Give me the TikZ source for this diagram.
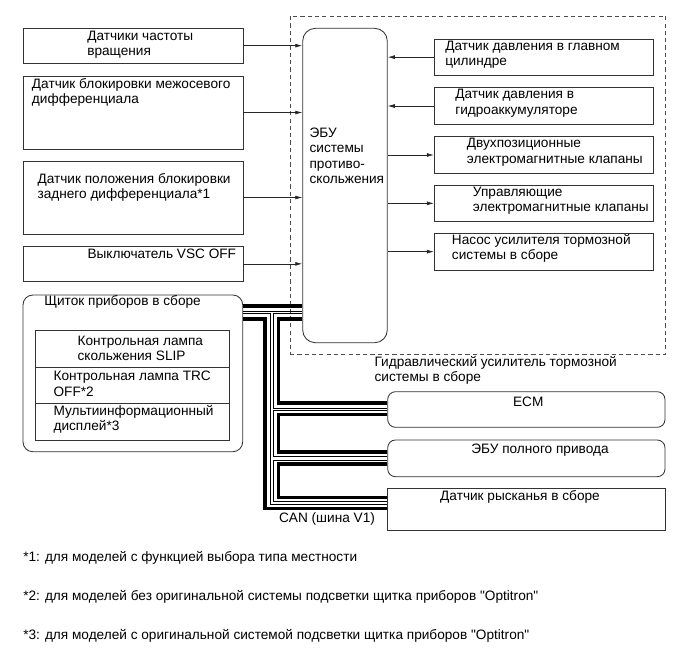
\documentclass[tikz,border=0pt]{standalone}
\usepackage{fontspec}
\setmainfont{Liberation Sans}
\usetikzlibrary{arrows.meta,fit,positioning}
\tikzset{font={\fontsize{9.7pt}{11pt}\selectfont}}

\begin{document}
\begin{tikzpicture}[x=0.025cm,y=-0.025cm,
box/.style={draw=black!80,line width=0.6pt,inner sep=0pt},
rbox/.style={box,rounded corners=5.5pt},
txt/.style={inner sep=0pt,align=left,anchor=west},
ctxt/.style={inner sep=0pt,align=center},
arr/.style={draw=black!85,line width=0.5pt,-{Latex[length=5pt,width=2.8pt]}},
canthick/.style={line width=2.2pt},
canthin/.style={line width=0.5pt}
]
\useasboundingbox (0,0) rectangle (691,660);

% hydraulic booster frame
\node[draw=black!70,dashed,dash pattern=on 3pt off 2.2pt,line width=0.5pt,inner sep=0pt,
  fit={(290,16) (665.7,354)}] (booster) {};
\node[txt] (boostertxt) at (374.3,370.3) {Гидравлический усилитель тормозной\\системы в сборе};

% ECU
\node[box,rounded corners=9pt,fit={(302.7,28.3) (387.3,342.7)}] (ecu) {};
\node[txt,align=left] (ecutxt) at (309.3,155.7) {ЭБУ\\системы\\противо-\\скольжения};

% inputs
\node[box,fit={(23,28) (243,63.3)}] (speed) {};
\node[txt] (speedtxt) at (87,44.7) {Датчики частоты\\вращения};
\node[box,fit={(23,76) (243,149)}] (cdl) {};
\node[txt] (cdltxt) at (31.7,92.2) {Датчик блокировки межосевого\\дифференциала};
\node[box,fit={(23,161) (243,234)}] (rdl) {};
\node[txt] (rdltxt) at (37.3,187.2) {Датчик положения блокировки\\заднего дифференциала*1};
\node[box,fit={(23,246) (243,281.7)}] (vsc) {};
\node[txt] (vsctxt) at (87.3,254) {Выключатель VSC OFF};

\foreach \n in {speed,cdl,rdl,vsc}
  \draw[arr] (\n.east) -- (\n.east -| ecu.west);

% booster parts
\node[box,fit={(434.3,39.3) (653.3,75)}] (mcp) {};
\node[txt] (mcptxt) at (445,54.7) {Датчик давления в главном\\цилиндре};
\node[box,fit={(434.3,87.7) (653.3,124.3)}] (acc) {};
\node[txt] (acctxt) at (455,103.3) {Датчик давления в\\гидроаккумуляторе};
\node[box,fit={(434.3,136.7) (653.3,173.3)}] (sw) {};
\node[txt] (swtxt) at (466.7,152) {Двухпозиционные\\электромагнитные клапаны};
\node[box,fit={(434.3,185) (653.3,221.7)}] (ctl) {};
\node[txt] (ctltxt) at (472.7,200.5) {Управляющие\\электромагнитные клапаны};
\node[box,fit={(434.3,233.3) (653.3,270)}] (pump) {};
\node[txt] (pumptxt) at (451.7,248.3) {Насос усилителя тормозной\\системы в сборе};

\foreach \n in {mcp,acc}
  \draw[arr] (\n.west) -- (\n.west -| ecu.east);
\foreach \n in {sw,ctl,pump}
  \draw[arr] (\n.west -| ecu.east) -- (\n.west);

% combination meter
\node[box,rounded corners=7pt,fit={(23,295) (242.7,451.7)}] (meter) {};
\node[txt] (metertxt) at (44,301.7) {Щиток приборов в сборе};
\node[box,fit={(35,330.7) (229.3,367.3)}] (slip) {};
\node[txt] (sliptxt) at (77.3,348.3) {Контрольная лампа\\скольжения SLIP};
\node[box,fit={(35,367.3) (229.3,403.3)}] (trc) {};
\node[txt] (trctxt) at (53.3,383.7) {Контрольная лампа TRC\\OFF*2};
\node[box,fit={(35,403.3) (229.3,440.7)}] (mid) {};
\node[txt] (midtxt) at (53.3,419.3) {Мультиинформационный\\дисплей*3};

% CAN members
\node[rbox,fit={(387.7,391.7) (665,427.3)}] (ecm) {};
\node[ctxt] (ecmtxt) at (528.3,401.7) {ECM};
\node[rbox,fit={(387.7,440) (665,476.7)}] (awd) {};
\node[ctxt] (awdtxt) at (540,450) {ЭБУ полного привода};
\node[box,fit={(387.7,488.3) (665,530)}] (yaw) {};
\node[ctxt] (yawtxt) at (520,496.7) {Датчик рысканья в сборе};
\node[ctxt] (cantxt) at (327,519) {CAN (шина V1)};

% CAN bus
\draw[canthick] (meter.east |- 0,306) -- (ecu.west |- 0,306);
\draw[canthin] (meter.east |- 0,311) -- (ecu.west |- 0,311);
\draw[canthin] (meter.east |- 0,313.7) -| (270.3,504) -- (yaw.west |- 0,504);
\draw[canthick] (meter.east |- 0,319) -| (265,508.5) -- (yaw.west |- 0,508.5);
\draw[canthin] (ecu.west |- 0,313.7) -| (273.7,408.5) -- (ecm.west |- 0,408.5);
\draw[canthick] (ecu.west |- 0,319) -| (278.5,403) -- (ecm.west |- 0,403);
\draw[canthin] (ecm.west |- 0,410.5) -| (273.7,456.5) -- (awd.west |- 0,456.5);
\draw[canthick] (ecm.west |- 0,414.5) -| (278.5,452) -- (awd.west |- 0,452);
\draw[canthin] (awd.west |- 0,460) -| (273.7,501.5) -- (yaw.west |- 0,501.5);
\draw[canthick] (awd.west |- 0,464) -| (278.5,497.5) -- (yaw.west |- 0,497.5);

% notes
\node[txt] (note1) at (23,557.5) {*1: для моделей с функцией выбора типа местности};
\node[txt] (note2) at (23,597) {*2: для моделей без оригинальной системы подсветки щитка приборов \textquotedbl Optitron\textquotedbl};
\node[txt] (note3) at (23,636) {*3: для моделей с оригинальной системой подсветки щитка приборов \textquotedbl Optitron\textquotedbl};
\end{tikzpicture}
\end{document}
